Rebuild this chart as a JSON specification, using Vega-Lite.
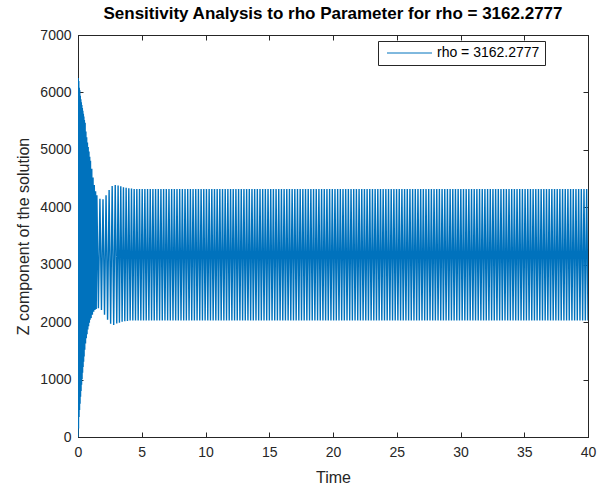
{
"$schema": "https://vega.github.io/schema/vega-lite/v6.json",
"width": 510,
"height": 402,
"autosize": "none",
"padding": {"left": 78, "top": 35, "right": 15, "bottom": 47},
"background": "white",
"title": {"text": "Sensitivity Analysis to rho Parameter for rho = 3162.2777", "fontSize": 17, "fontWeight": "bold", "font": "Liberation Sans", "color": "#000000", "offset": 5, "anchor": "middle"},
"config": {
  "view": {"stroke": "#262626", "strokeWidth": 1},
  "axis": {"domainColor": "#262626", "tickColor": "#262626", "labelColor": "#262626", "titleColor": "#262626", "labelFont": "Liberation Sans", "titleFont": "Liberation Sans", "labelFontSize": 14, "titleFontSize": 16, "titleFontWeight": "normal", "grid": false, "tickSize": -5, "labelPadding": 12, "labelFlush": false, "domainWidth": 1, "tickWidth": 1, "format": "d"}
},
"data": {"values": [
{"t":0,"z":0},{"t":0.02,"z":6250},{"t":0.04,"z":150},{"t":0.06,"z":6200},{"t":0.08,"z":350},{"t":0.1,"z":6080},{"t":0.12,"z":470},{"t":0.14,"z":6040},{"t":0.16,"z":580},{"t":0.18,"z":5940},{"t":0.2,"z":700},{"t":0.22,"z":5880},{"t":0.24,"z":800},{"t":0.26,"z":5830},{"t":0.28,"z":910},{"t":0.3,"z":5780},{"t":0.32,"z":1010},{"t":0.34,"z":5730},{"t":0.36,"z":1120},{"t":0.38,"z":5680},{"t":0.4,"z":1220},{"t":0.42,"z":5630},{"t":0.44,"z":1310},{"t":0.46,"z":5580},{"t":0.48,"z":1400},{"t":0.5,"z":5520},
{"t":0.53,"z":1520},{"t":0.56,"z":5470},{"t":0.59,"z":1630},{"t":0.62,"z":5320},{"t":0.65,"z":1720},{"t":0.68,"z":5220},{"t":0.71,"z":1790},{"t":0.74,"z":5130},{"t":0.77,"z":1870},{"t":0.8,"z":5050},{"t":0.83,"z":1930},{"t":0.86,"z":4970},{"t":0.89,"z":1990},{"t":0.92,"z":4880},{"t":0.95,"z":2040},{"t":0.98,"z":4810},
{"t":1.03,"z":2070},{"t":1.08,"z":4670},{"t":1.13,"z":2130},{"t":1.18,"z":4520},{"t":1.23,"z":2180},{"t":1.28,"z":4390},{"t":1.33,"z":2210},{"t":1.38,"z":4280},{"t":1.43,"z":2230},{"t":1.48,"z":4210},
{"t":1.6,"z":2240},{"t":1.72,"z":4150},{"t":1.84,"z":2210},{"t":1.96,"z":4140},{"t":2.08,"z":2130},{"t":2.2,"z":4210},{"t":2.32,"z":2040},{"t":2.44,"z":4300},{"t":2.56,"z":1970},{"t":2.68,"z":4370},{"t":2.8,"z":1950},{"t":2.92,"z":4390},
{"t":3.04,"z":1975},{"t":3.145,"z":4380},{"t":3.25,"z":1990},{"t":3.355,"z":4365},{"t":3.46,"z":2005},{"t":3.565,"z":4350},{"t":3.67,"z":2015},{"t":3.775,"z":4340},{"t":3.88,"z":2022},{"t":3.985,"z":4330},{"t":4.09,"z":2028},{"t":4.195,"z":4325},{"t":4.3,"z":2030},{"t":4.405,"z":4320},{"t":4.51,"z":2030},{"t":4.615,"z":4320},{"t":4.72,"z":2030},{"t":4.825,"z":4320},{"t":4.93,"z":2030},{"t":5.035,"z":4320},
{"t":5.14,"z":2030},{"t":5.245,"z":4320},{"t":5.35,"z":2030},{"t":5.455,"z":4320},{"t":5.56,"z":2030},{"t":5.665,"z":4320},{"t":5.77,"z":2030},{"t":5.875,"z":4320},{"t":5.98,"z":2030},{"t":6.085,"z":4320},{"t":6.19,"z":2030},{"t":6.295,"z":4320},{"t":6.4,"z":2030},{"t":6.505,"z":4320},{"t":6.61,"z":2030},{"t":6.715,"z":4320},{"t":6.82,"z":2030},{"t":6.925,"z":4320},{"t":7.03,"z":2030},{"t":7.135,"z":4320},
{"t":7.24,"z":2030},{"t":7.345,"z":4320},{"t":7.45,"z":2030},{"t":7.555,"z":4320},{"t":7.66,"z":2030},{"t":7.765,"z":4320},{"t":7.87,"z":2030},{"t":7.975,"z":4320},{"t":8.08,"z":2030},{"t":8.185,"z":4320},{"t":8.29,"z":2030},{"t":8.395,"z":4320},{"t":8.5,"z":2030},{"t":8.605,"z":4320},{"t":8.71,"z":2030},{"t":8.815,"z":4320},{"t":8.92,"z":2030},{"t":9.025,"z":4320},{"t":9.13,"z":2030},{"t":9.235,"z":4320},
{"t":9.34,"z":2030},{"t":9.445,"z":4320},{"t":9.55,"z":2030},{"t":9.655,"z":4320},{"t":9.76,"z":2030},{"t":9.865,"z":4320},{"t":9.97,"z":2030},{"t":10.075,"z":4320},{"t":10.18,"z":2030},{"t":10.285,"z":4320},{"t":10.39,"z":2030},{"t":10.495,"z":4320},{"t":10.6,"z":2030},{"t":10.705,"z":4320},{"t":10.81,"z":2030},{"t":10.915,"z":4320},{"t":11.02,"z":2030},{"t":11.125,"z":4320},{"t":11.23,"z":2030},{"t":11.335,"z":4320},
{"t":11.44,"z":2030},{"t":11.545,"z":4320},{"t":11.65,"z":2030},{"t":11.755,"z":4320},{"t":11.86,"z":2030},{"t":11.965,"z":4320},{"t":12.07,"z":2030},{"t":12.175,"z":4320},{"t":12.28,"z":2030},{"t":12.385,"z":4320},{"t":12.49,"z":2030},{"t":12.595,"z":4320},{"t":12.7,"z":2030},{"t":12.805,"z":4320},{"t":12.91,"z":2030},{"t":13.015,"z":4320},{"t":13.12,"z":2030},{"t":13.225,"z":4320},{"t":13.33,"z":2030},{"t":13.435,"z":4320},
{"t":13.54,"z":2030},{"t":13.645,"z":4320},{"t":13.75,"z":2030},{"t":13.855,"z":4320},{"t":13.96,"z":2030},{"t":14.065,"z":4320},{"t":14.17,"z":2030},{"t":14.275,"z":4320},{"t":14.38,"z":2030},{"t":14.485,"z":4320},{"t":14.59,"z":2030},{"t":14.695,"z":4320},{"t":14.8,"z":2030},{"t":14.905,"z":4320},{"t":15.01,"z":2030},{"t":15.115,"z":4320},{"t":15.22,"z":2030},{"t":15.325,"z":4320},{"t":15.43,"z":2030},{"t":15.535,"z":4320},
{"t":15.64,"z":2030},{"t":15.745,"z":4320},{"t":15.85,"z":2030},{"t":15.955,"z":4320},{"t":16.06,"z":2030},{"t":16.165,"z":4320},{"t":16.27,"z":2030},{"t":16.375,"z":4320},{"t":16.48,"z":2030},{"t":16.585,"z":4320},{"t":16.69,"z":2030},{"t":16.795,"z":4320},{"t":16.9,"z":2030},{"t":17.005,"z":4320},{"t":17.11,"z":2030},{"t":17.215,"z":4320},{"t":17.32,"z":2030},{"t":17.425,"z":4320},{"t":17.53,"z":2030},{"t":17.635,"z":4320},
{"t":17.74,"z":2030},{"t":17.845,"z":4320},{"t":17.95,"z":2030},{"t":18.055,"z":4320},{"t":18.16,"z":2030},{"t":18.265,"z":4320},{"t":18.37,"z":2030},{"t":18.475,"z":4320},{"t":18.58,"z":2030},{"t":18.685,"z":4320},{"t":18.79,"z":2030},{"t":18.895,"z":4320},{"t":19.0,"z":2030},{"t":19.105,"z":4320},{"t":19.21,"z":2030},{"t":19.315,"z":4320},{"t":19.42,"z":2030},{"t":19.525,"z":4320},{"t":19.63,"z":2030},{"t":19.735,"z":4320},
{"t":19.84,"z":2030},{"t":19.945,"z":4320},{"t":20.05,"z":2030},{"t":20.155,"z":4320},{"t":20.26,"z":2030},{"t":20.365,"z":4320},{"t":20.47,"z":2030},{"t":20.575,"z":4320},{"t":20.68,"z":2030},{"t":20.785,"z":4320},{"t":20.89,"z":2030},{"t":20.995,"z":4320},{"t":21.1,"z":2030},{"t":21.205,"z":4320},{"t":21.31,"z":2030},{"t":21.415,"z":4320},{"t":21.52,"z":2030},{"t":21.625,"z":4320},{"t":21.73,"z":2030},{"t":21.835,"z":4320},
{"t":21.94,"z":2030},{"t":22.045,"z":4320},{"t":22.15,"z":2030},{"t":22.255,"z":4320},{"t":22.36,"z":2030},{"t":22.465,"z":4320},{"t":22.57,"z":2030},{"t":22.675,"z":4320},{"t":22.78,"z":2030},{"t":22.885,"z":4320},{"t":22.99,"z":2030},{"t":23.095,"z":4320},{"t":23.2,"z":2030},{"t":23.305,"z":4320},{"t":23.41,"z":2030},{"t":23.515,"z":4320},{"t":23.62,"z":2030},{"t":23.725,"z":4320},{"t":23.83,"z":2030},{"t":23.935,"z":4320},
{"t":24.04,"z":2030},{"t":24.145,"z":4320},{"t":24.25,"z":2030},{"t":24.355,"z":4320},{"t":24.46,"z":2030},{"t":24.565,"z":4320},{"t":24.67,"z":2030},{"t":24.775,"z":4320},{"t":24.88,"z":2030},{"t":24.985,"z":4320},{"t":25.09,"z":2030},{"t":25.195,"z":4320},{"t":25.3,"z":2030},{"t":25.405,"z":4320},{"t":25.51,"z":2030},{"t":25.615,"z":4320},{"t":25.72,"z":2030},{"t":25.825,"z":4320},{"t":25.93,"z":2030},{"t":26.035,"z":4320},
{"t":26.14,"z":2030},{"t":26.245,"z":4320},{"t":26.35,"z":2030},{"t":26.455,"z":4320},{"t":26.56,"z":2030},{"t":26.665,"z":4320},{"t":26.77,"z":2030},{"t":26.875,"z":4320},{"t":26.98,"z":2030},{"t":27.085,"z":4320},{"t":27.19,"z":2030},{"t":27.295,"z":4320},{"t":27.4,"z":2030},{"t":27.505,"z":4320},{"t":27.61,"z":2030},{"t":27.715,"z":4320},{"t":27.82,"z":2030},{"t":27.925,"z":4320},{"t":28.03,"z":2030},{"t":28.135,"z":4320},
{"t":28.24,"z":2030},{"t":28.345,"z":4320},{"t":28.45,"z":2030},{"t":28.555,"z":4320},{"t":28.66,"z":2030},{"t":28.765,"z":4320},{"t":28.87,"z":2030},{"t":28.975,"z":4320},{"t":29.08,"z":2030},{"t":29.185,"z":4320},{"t":29.29,"z":2030},{"t":29.395,"z":4320},{"t":29.5,"z":2030},{"t":29.605,"z":4320},{"t":29.71,"z":2030},{"t":29.815,"z":4320},{"t":29.92,"z":2030},{"t":30.025,"z":4320},{"t":30.13,"z":2030},{"t":30.235,"z":4320},
{"t":30.34,"z":2030},{"t":30.445,"z":4320},{"t":30.55,"z":2030},{"t":30.655,"z":4320},{"t":30.76,"z":2030},{"t":30.865,"z":4320},{"t":30.97,"z":2030},{"t":31.075,"z":4320},{"t":31.18,"z":2030},{"t":31.285,"z":4320},{"t":31.39,"z":2030},{"t":31.495,"z":4320},{"t":31.6,"z":2030},{"t":31.705,"z":4320},{"t":31.81,"z":2030},{"t":31.915,"z":4320},{"t":32.02,"z":2030},{"t":32.125,"z":4320},{"t":32.23,"z":2030},{"t":32.335,"z":4320},
{"t":32.44,"z":2030},{"t":32.545,"z":4320},{"t":32.65,"z":2030},{"t":32.755,"z":4320},{"t":32.86,"z":2030},{"t":32.965,"z":4320},{"t":33.07,"z":2030},{"t":33.175,"z":4320},{"t":33.28,"z":2030},{"t":33.385,"z":4320},{"t":33.49,"z":2030},{"t":33.595,"z":4320},{"t":33.7,"z":2030},{"t":33.805,"z":4320},{"t":33.91,"z":2030},{"t":34.015,"z":4320},{"t":34.12,"z":2030},{"t":34.225,"z":4320},{"t":34.33,"z":2030},{"t":34.435,"z":4320},
{"t":34.54,"z":2030},{"t":34.645,"z":4320},{"t":34.75,"z":2030},{"t":34.855,"z":4320},{"t":34.96,"z":2030},{"t":35.065,"z":4320},{"t":35.17,"z":2030},{"t":35.275,"z":4320},{"t":35.38,"z":2030},{"t":35.485,"z":4320},{"t":35.59,"z":2030},{"t":35.695,"z":4320},{"t":35.8,"z":2030},{"t":35.905,"z":4320},{"t":36.01,"z":2030},{"t":36.115,"z":4320},{"t":36.22,"z":2030},{"t":36.325,"z":4320},{"t":36.43,"z":2030},{"t":36.535,"z":4320},
{"t":36.64,"z":2030},{"t":36.745,"z":4320},{"t":36.85,"z":2030},{"t":36.955,"z":4320},{"t":37.06,"z":2030},{"t":37.165,"z":4320},{"t":37.27,"z":2030},{"t":37.375,"z":4320},{"t":37.48,"z":2030},{"t":37.585,"z":4320},{"t":37.69,"z":2030},{"t":37.795,"z":4320},{"t":37.9,"z":2030},{"t":38.005,"z":4320},{"t":38.11,"z":2030},{"t":38.215,"z":4320},{"t":38.32,"z":2030},{"t":38.425,"z":4320},{"t":38.53,"z":2030},{"t":38.635,"z":4320},
{"t":38.74,"z":2030},{"t":38.845,"z":4320},{"t":38.95,"z":2030},{"t":39.055,"z":4320},{"t":39.16,"z":2030},{"t":39.265,"z":4320},{"t":39.37,"z":2030},{"t":39.475,"z":4320},{"t":39.58,"z":2030},{"t":39.685,"z":4320},{"t":39.79,"z":2030},{"t":39.895,"z":4320},{"t":40.0,"z":2030}
]},
"layer": [
  {
    "mark": {"type": "line", "strokeWidth": 1.4, "clip": true},
    "encoding": {
      "x": {"field": "t", "type": "quantitative", "scale": {"domain": [0, 40], "nice": false, "zero": false}, "axis": {"orient": "bottom", "values": [0,5,10,15,20,25,30,35,40], "title": "Time", "titlePadding": 10, "labelPadding": 13}},
      "y": {"field": "z", "type": "quantitative", "scale": {"domain": [0, 7000], "nice": false}, "axis": {"orient": "left", "values": [0,1000,2000,3000,4000,5000,6000,7000], "title": "Z component of the solution", "titlePadding": 8}},
      "color": {"datum": "rho = 3162.2777", "type": "nominal", "scale": {"range": ["#0072BD"]}, "legend": {"orient": "none", "legendX": 300, "legendY": 6, "title": null, "symbolType": "M-0.6,0H8.4", "symbolStrokeWidth": 1, "symbolSize": 100, "labelFontSize": 14, "labelFont": "Liberation Sans", "labelColor": "#000000", "labelOffset": 40, "strokeColor": "#262626", "fillColor": "white", "padding": 5}}
    }
  },
  {
    "data": {"values": [{"t": 0, "z": 0}]},
    "mark": {"type": "point", "opacity": 0},
    "encoding": {
      "x": {"field": "t", "type": "quantitative", "axis": {"orient": "top", "values": [0,5,10,15,20,25,30,35,40], "labels": false, "title": null}},
      "y": {"field": "z", "type": "quantitative", "axis": {"orient": "right", "values": [0,1000,2000,3000,4000,5000,6000,7000], "labels": false, "title": null}}
    }
  }
],
"resolve": {"axis": {"x": "independent", "y": "independent"}}
}
